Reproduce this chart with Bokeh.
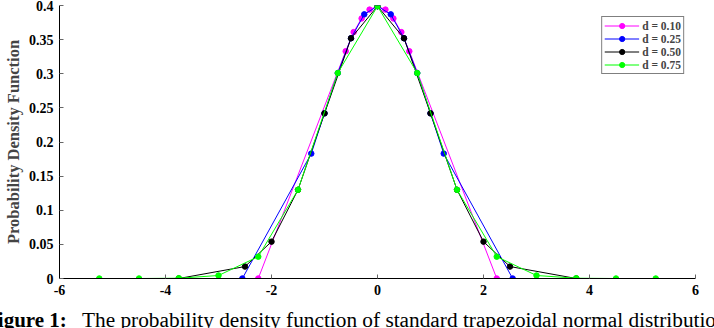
from bokeh.plotting import figure
from bokeh.layouts import column
from bokeh.models import FixedTicker, Legend, LegendItem, Div
from bokeh.embed import file_html
from bokeh.resources import INLINE

# Trapezoidal approximations of the standard normal density for four step sizes d
x_d010 = [-2.25, -0.6, -0.45, -0.3, -0.15, 0.0, 0.15, 0.3, 0.45, 0.6, 2.25]
y_d010 = [0.0, 0.333, 0.361, 0.381, 0.394, 0.399, 0.394, 0.381, 0.361, 0.333, 0.0]

x_d025 = [-2.55, -1.25, -1.0, -0.75, -0.5, -0.25, 0.0, 0.25, 0.5, 0.75, 1.0, 1.25, 2.55]
y_d025 = [0.0, 0.183, 0.242, 0.301, 0.352, 0.387, 0.399, 0.387, 0.352, 0.301, 0.242, 0.183, 0.0]

x_d050 = [-3.75, -2.5, -2.0, -1.5, -1.0, -0.5, 0.0, 0.5, 1.0, 1.5, 2.0, 2.5, 3.75]
y_d050 = [0.0, 0.0175, 0.054, 0.130, 0.242, 0.352, 0.399, 0.352, 0.242, 0.130, 0.054, 0.0175, 0.0]

x_d075 = [-5.25, -4.5, -3.75, -3.0, -2.25, -1.5, -0.75, 0.0, 0.75, 1.5, 2.25, 3.0, 3.75, 4.5, 5.25]
y_d075 = [0.0, 0.0, 0.0004, 0.0044, 0.032, 0.130, 0.301, 0.399, 0.301, 0.130, 0.032, 0.0044, 0.0004, 0.0, 0.0]

series = [
    ("d = 0.10", x_d010, y_d010, "#ff00ff"),
    ("d = 0.25", x_d025, y_d025, "#0000ff"),
    ("d = 0.50", x_d050, y_d050, "#000000"),
    ("d = 0.75", x_d075, y_d075, "#00ff00"),
]

x_ticks = [-6, -4, -2, 0, 2, 4, 6]
x_tick_labels = ["-6", "-4", "-2", "0", "2", "4", "6"]
y_ticks = [0, 0.05, 0.1, 0.15, 0.2, 0.25, 0.3, 0.35, 0.4]
y_tick_labels = ["0", "0.05", "0.1", "0.15", "0.2", "0.25", "0.3", "0.35", "0.4"]

caption_head = "Figure 1:"
caption_body = "The probability density function of standard trapezoidal normal distribution"

SERIF = "Liberation Serif"

p = figure(width=714, height=300, x_range=(-6, 6), y_range=(0, 0.4),
           output_backend="svg", toolbar_location=None,
           min_border_left=53, min_border_right=19, min_border_top=5, min_border_bottom=22)
p.outline_line_color = None
p.grid.visible = False
p.background_fill_color = "white"
p.border_fill_color = "white"

items = []
for name, xs, ys, color in series:
    r1 = p.line(xs, ys, line_color=color, line_width=1)
    r2 = p.scatter(xs, ys, size=5.5, fill_color=color, line_color=color)
    items.append(LegendItem(label=name, renderers=[r1, r2]))

for ax in (p.xaxis[0], p.yaxis[0]):
    ax.major_label_text_font = SERIF
    ax.major_label_text_font_style = "bold"
    ax.major_label_text_font_size = "14px"
    ax.major_label_text_color = "black"
    ax.axis_line_color = "black"
    ax.axis_line_width = 1
    ax.major_tick_in = 4
    ax.major_tick_out = 0
    ax.major_tick_line_color = "#666666"
    ax.minor_tick_line_color = None

p.xaxis.ticker = FixedTicker(ticks=x_ticks)
p.xaxis.major_label_overrides = {t: s for t, s in zip(x_ticks, x_tick_labels)}
p.xaxis.major_label_standoff = 6
p.yaxis.ticker = FixedTicker(ticks=y_ticks)
p.yaxis.major_label_overrides = {t: s for t, s in zip(y_ticks, y_tick_labels)}
p.yaxis.major_label_standoff = 6
p.yaxis.axis_label = "Probability Density Function"
p.yaxis.axis_label_text_font = SERIF
p.yaxis.axis_label_text_font_style = "bold"
p.yaxis.axis_label_text_font_size = "16.5px"
p.yaxis.axis_label_standoff = 3

legend = Legend(items=items, location="top_right")
legend.label_text_font = SERIF
legend.label_text_font_style = "bold"
legend.label_text_font_size = "11.5px"
legend.border_line_color = "black"
legend.border_line_width = 1
legend.background_fill_alpha = 1
legend.glyph_width = 35
legend.glyph_height = 13
legend.label_height = 13
legend.label_standoff = 3
legend.spacing = 0
legend.padding = 2
legend.margin = 11
p.add_layout(legend)

# Caption line under the chart
caption_html = (
    '<div style="position:relative;width:714px;height:28px;overflow:hidden;'
    "font-family:'Liberation Serif',serif;color:black;background:white;\">"
    '<span style="position:absolute;left:-15px;top:10px;font-size:21px;line-height:21px;'
    f'font-weight:bold;white-space:nowrap;">{caption_head}</span>'
    '<span style="position:absolute;left:82px;top:10px;font-size:21.3px;line-height:21px;'
    f'white-space:nowrap;">{caption_body}</span>'
    "</div>"
)
cap = Div(text=caption_html, width=714, height=28, margin=(0, 0, 0, 0))

layout = column(p, cap, spacing=0)
open("out.html", "w").write(file_html(layout, INLINE))
